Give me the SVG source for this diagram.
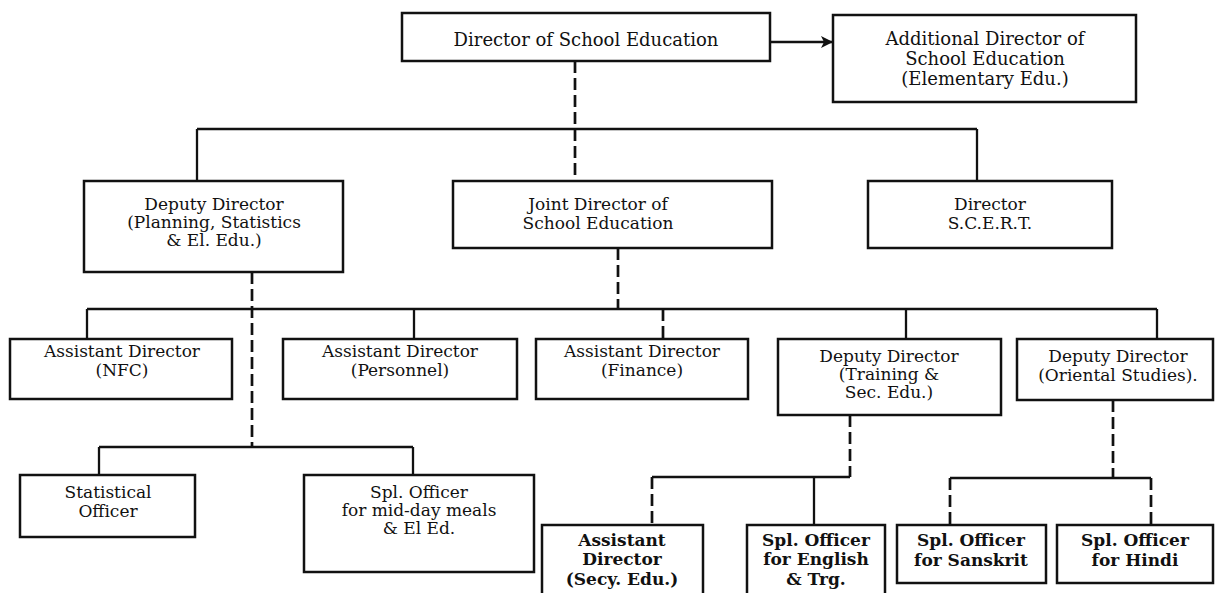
<svg xmlns="http://www.w3.org/2000/svg" width="1219" height="593" viewBox="0 0 1219 593">
<style>
.box{fill:#fff;stroke:#111;stroke-width:2.5}
.ln{stroke:#111;stroke-width:2.3;fill:none}
.dash{stroke-dasharray:12 5;stroke-width:2.7}
text{font-family:"DejaVu Serif","Liberation Serif",serif;font-size:17px;text-anchor:middle;fill:#111}
.big{font-size:18px}
.b{font-weight:bold}
</style>
<defs>
<marker id="ah" viewBox="0 0 12 12" refX="11" refY="6" markerWidth="12" markerHeight="12" markerUnits="userSpaceOnUse" orient="auto">
<path d="M0,0 L12,6 L0,12 L3,6 Z" fill="#111"/>
</marker>
</defs>
<rect width="1219" height="593" fill="#fff"/>
<g id="connectors">
<line class="ln" x1="770" y1="42" x2="832" y2="42" marker-end="url(#ah)"/>
<line class="ln dash" x1="575" y1="61" x2="575" y2="181"/>
<line class="ln" x1="197" y1="129" x2="977" y2="129"/>
<line class="ln" x1="197" y1="129" x2="197" y2="181"/>
<line class="ln" x1="977" y1="129" x2="977" y2="181"/>
<line class="ln dash" x1="618" y1="248" x2="618" y2="309"/>
<line class="ln" x1="87" y1="309" x2="1157" y2="309"/>
<line class="ln" x1="87" y1="309" x2="87" y2="339"/>
<line class="ln" x1="414" y1="309" x2="414" y2="339"/>
<line class="ln dash" x1="663" y1="309" x2="663" y2="339"/>
<line class="ln" x1="906" y1="309" x2="906" y2="339"/>
<line class="ln" x1="1157" y1="309" x2="1157" y2="339"/>
<line class="ln dash" x1="252" y1="272" x2="252" y2="447"/>
<line class="ln" x1="99" y1="447" x2="413" y2="447"/>
<line class="ln" x1="99" y1="447" x2="99" y2="475"/>
<line class="ln" x1="413" y1="447" x2="413" y2="475"/>
<line class="ln dash" x1="850" y1="415" x2="850" y2="477"/>
<line class="ln" x1="652" y1="477" x2="850" y2="477"/>
<line class="ln dash" x1="652" y1="477" x2="652" y2="525"/>
<line class="ln" x1="814" y1="477" x2="814" y2="525"/>
<line class="ln dash" x1="1113" y1="400" x2="1113" y2="478"/>
<line class="ln" x1="950" y1="478" x2="1151" y2="478"/>
<line class="ln dash" x1="950" y1="478" x2="950" y2="525"/>
<line class="ln dash" x1="1151" y1="478" x2="1151" y2="525"/>
</g>
<g id="n-director">
<rect class="box" x="402" y="13" width="368" height="48"/>
<text class="big" x="586" y="46">Director of School Education</text>
</g>
<g id="n-additional">
<rect class="box" x="833" y="15" width="303" height="87"/>
<text class="big" x="985" y="45">Additional Director of</text>
<text class="big" x="985" y="65">School Education</text>
<text class="big" x="985" y="85">(Elementary Edu.)</text>
</g>
<g id="n-deputy-planning">
<rect class="box" x="84" y="181" width="259" height="91"/>
<text x="214" y="210">Deputy Director</text>
<text x="214" y="228">(Planning, Statistics</text>
<text x="214" y="246">&amp; El. Edu.)</text>
</g>
<g id="n-joint">
<rect class="box" x="453" y="181" width="319" height="67"/>
<text x="598" y="210">Joint Director of</text>
<text x="598" y="229">School Education</text>
</g>
<g id="n-scert">
<rect class="box" x="868" y="181" width="244" height="67"/>
<text x="990" y="210">Director</text>
<text x="990" y="229">S.C.E.R.T.</text>
</g>
<g id="n-ad-nfc">
<rect class="box" x="10" y="339" width="222" height="60"/>
<text x="122" y="357">Assistant Director</text>
<text x="122" y="376">(NFC)</text>
</g>
<g id="n-ad-personnel">
<rect class="box" x="283" y="339" width="234" height="60"/>
<text x="400" y="357">Assistant Director</text>
<text x="400" y="376">(Personnel)</text>
</g>
<g id="n-ad-finance">
<rect class="box" x="536" y="339" width="212" height="60"/>
<text x="642" y="357">Assistant Director</text>
<text x="642" y="376">(Finance)</text>
</g>
<g id="n-deputy-training">
<rect class="box" x="778" y="339" width="223" height="76"/>
<text x="889" y="362">Deputy Director</text>
<text x="889" y="380">(Training &amp;</text>
<text x="889" y="398">Sec. Edu.)</text>
</g>
<g id="n-deputy-oriental">
<rect class="box" x="1017" y="339" width="196" height="61"/>
<text x="1118" y="362">Deputy Director</text>
<text x="1118" y="381">(Oriental Studies).</text>
</g>
<g id="n-statistical">
<rect class="box" x="20" y="475" width="175" height="62"/>
<text x="108" y="498">Statistical</text>
<text x="108" y="517">Officer</text>
</g>
<g id="n-spl-midday">
<rect class="box" x="304" y="475" width="230" height="97"/>
<text x="419" y="498">Spl. Officer</text>
<text x="419" y="516">for mid-day meals</text>
<text x="419" y="534">&amp; El Ed.</text>
</g>
<g id="n-ad-secy">
<rect class="box" x="542" y="525" width="161" height="80"/>
<text class="b" x="622" y="546">Assistant</text>
<text class="b" x="622" y="565">Director</text>
<text class="b" x="622" y="585">(Secy. Edu.)</text>
</g>
<g id="n-spl-english">
<rect class="box" x="747" y="525" width="138" height="80"/>
<text class="b" x="816" y="546">Spl. Officer</text>
<text class="b" x="816" y="565">for English</text>
<text class="b" x="816" y="585">&amp; Trg.</text>
</g>
<g id="n-spl-sanskrit">
<rect class="box" x="897" y="525" width="149" height="58"/>
<text class="b" x="971" y="546">Spl. Officer</text>
<text class="b" x="971" y="566">for Sanskrit</text>
</g>
<g id="n-spl-hindi">
<rect class="box" x="1057" y="525" width="156" height="58"/>
<text class="b" x="1135" y="546">Spl. Officer</text>
<text class="b" x="1135" y="566">for Hindi</text>
</g>
</svg>
